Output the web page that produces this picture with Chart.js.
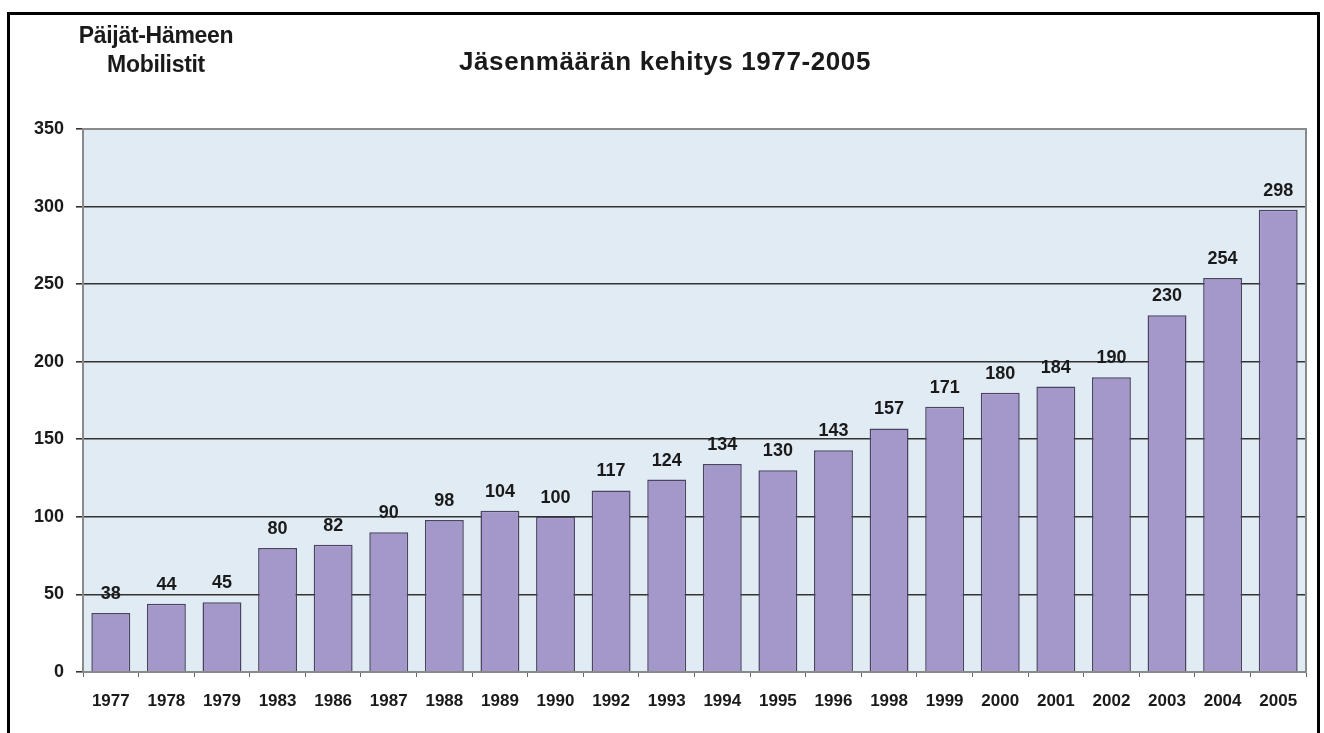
<!DOCTYPE html>
<html>
<head>
<meta charset="utf-8">
<script src="https://cdn.jsdelivr.net/npm/chart.js@4/dist/chart.umd.min.js"></script>
<style>
  html, body { margin: 0; padding: 0; background: #fff; }
  #wrap { position: relative; width: 1324px; height: 733px; overflow: hidden; }
  #frame {
    position: absolute; left: 7px; top: 12px; width: 1313px; height: 740px;
    border: 3px solid #000; box-sizing: border-box;
  }
  .lbl { position: absolute; font-family: "Liberation Sans", Arial, sans-serif; font-weight: bold; color: #1a1a1a; }
  #club { left: 46px; top: 21px; width: 220px; text-align: center; font-size: 23px; line-height: 29px; letter-spacing: -0.3px; }
  #title { left: 315px; top: 46px; width: 700px; text-align: center; font-size: 26px; letter-spacing: 0.6px; }
  canvas { position: absolute; left: 0; top: 0; }
</style>
</head>
<body>
<div id="wrap">
  <canvas id="chart" width="1324" height="733"></canvas>
  <div id="frame"></div>
  <div id="club" class="lbl">Päijät-Hämeen<br>Mobilistit</div>
  <div id="title" class="lbl">Jäsenmäärän kehitys 1977-2005</div>
</div>
<script>
const years = ["1977", "1978", "1979", "1983", "1986", "1987", "1988", "1989", "1990", "1992", "1993",
  "1994", "1995", "1996", "1998", "1999", "2000", "2001", "2002", "2003", "2004", "2005"];
const members = [38, 44, 45, 80, 82, 90, 98, 104, 100, 117, 124,
  134, 130, 143, 157, 171, 180, 184, 190, 230, 254, 298];
const yTicks = [0, 50, 100, 150, 200, 250, 300, 350];

const FONT = "'Liberation Sans', Arial, sans-serif";

// light blue plot background + grey frame
const plotBackground = {
  id: "plotBackground",
  beforeDraw(chart) {
    const { ctx, chartArea } = chart;
    ctx.save();
    ctx.fillStyle = "#e0ebf4";
    ctx.fillRect(chartArea.left, chartArea.top, chartArea.right - chartArea.left, chartArea.bottom - chartArea.top);
    ctx.restore();
  },
  afterDraw(chart) {
    const { ctx, chartArea } = chart;
    ctx.save();
    ctx.strokeStyle = "#8a8a8a";
    ctx.lineWidth = 2;
    ctx.strokeRect(chartArea.left, chartArea.top, chartArea.right - chartArea.left, chartArea.bottom - chartArea.top);
    ctx.restore();
  },
};

// value labels above bars
const valueLabels = {
  id: "valueLabels",
  afterDatasetsDraw(chart) {
    const { ctx } = chart;
    const meta = chart.getDatasetMeta(0);
    ctx.save();
    ctx.font = "bold 18px " + FONT;
    ctx.fillStyle = "#1a1a1a";
    ctx.textAlign = "center";
    ctx.textBaseline = "bottom";
    meta.data.forEach((bar, i) => {
      ctx.fillText(String(members[i]), bar.x, bar.y - 10);
    });
    ctx.restore();
  },
};

new Chart(document.getElementById("chart"), {
  type: "bar",
  plugins: [plotBackground, valueLabels],
  data: {
    labels: years,
    datasets: [
      {
        data: members,
        backgroundColor: "#a497c9",
        borderColor: "#4a4462",
        borderWidth: 1.5,
        categoryPercentage: 1,
        barPercentage: 0.7,
      },
    ],
  },
  options: {
    responsive: false,
    animation: false,
    layout: { padding: { left: 0, right: 18, top: 129, bottom: 0 } },
    scales: {
      x: {
        afterFit(scale) { scale.height = 61; },
        grid: { offset: true, drawOnChartArea: false, color: "#666", tickLength: 5, lineWidth: 1 },
        border: { display: false },
        ticks: { color: "#1a1a1a", font: { family: FONT, weight: "bold", size: 17 }, padding: 14, maxRotation: 0, autoSkip: false },
      },
      y: {
        min: 0,
        max: 350,
        afterFit(scale) { scale.width = 83; },
        afterBuildTicks(scale) { scale.ticks = yTicks.map((v) => ({ value: v })); },
        grid: { color: "#333", lineWidth: 1.6, tickLength: 7 },
        border: { display: false },
        ticks: { color: "#1a1a1a", font: { family: FONT, weight: "bold", size: 18 }, padding: 12 },
      },
    },
    plugins: {
      legend: { display: false },
      tooltip: { enabled: false },
    },
  },
});
</script>
</body>
</html>
